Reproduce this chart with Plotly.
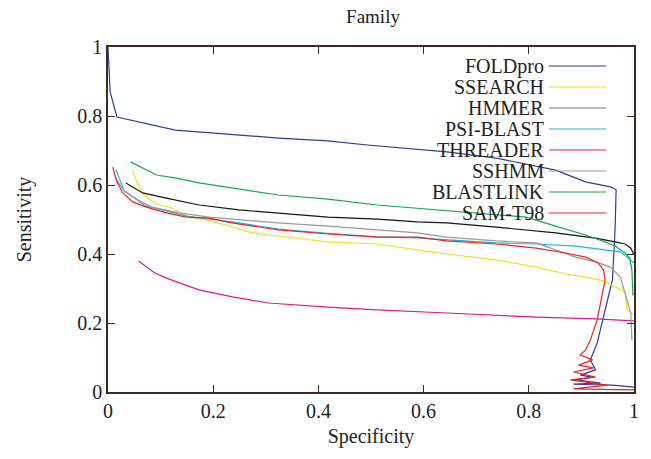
import plotly.graph_objects as go

# ---- data ----
SERIES = ["FOLDpro", "SSEARCH", "HMMER", "PSI-BLAST", "THREADER", "SSHMM", "BLASTLINK", "SAM-T98"]

FOLDPRO_X = [0.0, 0.004, 0.017, 0.128, 0.324, 0.418, 0.493, 0.644, 0.738, 0.851, 0.908, 0.957, 0.966,
             0.964, 0.959, 0.940, 0.930, 0.917, 0.927, 0.898, 0.921, 0.889, 0.936, 0.885, 0.959, 1.0]
FOLDPRO_Y = [1.0, 0.87, 0.797, 0.759, 0.736, 0.728, 0.716, 0.696, 0.678, 0.643, 0.609, 0.594, 0.586,
             0.470, 0.325, 0.209, 0.142, 0.093, 0.064, 0.049, 0.043, 0.035, 0.026, 0.023, 0.020, 0.014]

SSEARCH_X = [0.047, 0.055, 0.064, 0.079, 0.098, 0.117, 0.136, 0.154, 0.186, 0.224, 0.267, 0.305, 0.418,
             0.512, 0.588, 0.644, 0.738, 0.814, 0.870, 0.908, 0.942, 0.964, 0.983, 0.987, 1.0]
SSEARCH_Y = [0.641, 0.609, 0.580, 0.557, 0.542, 0.536, 0.522, 0.507, 0.499, 0.484, 0.464, 0.455, 0.435,
             0.429, 0.412, 0.400, 0.383, 0.362, 0.342, 0.333, 0.322, 0.304, 0.290, 0.238, 0.223]

HMMER_X = [0.034, 0.066, 0.111, 0.173, 0.249, 0.324, 0.418, 0.512, 0.588, 0.644, 0.738, 0.851, 0.927,
           0.964, 0.983, 0.994, 1.0]
HMMER_Y = [0.606, 0.577, 0.562, 0.542, 0.528, 0.519, 0.507, 0.501, 0.493, 0.490, 0.478, 0.461, 0.446,
           0.435, 0.429, 0.417, 0.397]

PSIBLAST_X = [0.015, 0.03, 0.07, 0.15, 0.25, 0.324, 0.418, 0.512, 0.588, 0.644, 0.738, 0.814, 0.889,
              0.945, 0.974, 0.987, 0.992, 1.0]
PSIBLAST_Y = [0.645, 0.585, 0.54, 0.51, 0.49, 0.472, 0.46, 0.45, 0.447, 0.441, 0.432, 0.429, 0.423,
              0.412, 0.406, 0.391, 0.383, 0.375]

THREADER_X = [0.058, 0.073, 0.089, 0.111, 0.173, 0.239, 0.305, 0.418, 0.512, 0.644, 0.814, 0.927, 1.0]
THREADER_Y = [0.380, 0.362, 0.345, 0.330, 0.296, 0.275, 0.258, 0.246, 0.238, 0.229, 0.217, 0.212, 0.206]

SSHMM_X = [0.012, 0.019, 0.032, 0.060, 0.083, 0.136, 0.192, 0.249, 0.324, 0.418, 0.512, 0.588, 0.644,
           0.738, 0.814, 0.851, 0.889, 0.927, 0.955, 0.974, 0.983, 0.989, 0.994, 0.996]
SSHMM_Y = [0.630, 0.609, 0.580, 0.554, 0.536, 0.519, 0.507, 0.499, 0.490, 0.481, 0.470, 0.461, 0.449,
           0.438, 0.432, 0.412, 0.391, 0.377, 0.362, 0.333, 0.287, 0.252, 0.229, 0.151]

BLASTLINK_X = [0.043, 0.079, 0.092, 0.130, 0.173, 0.324, 0.418, 0.512, 0.588, 0.644, 0.795, 0.851, 0.908,
               0.945, 0.964, 0.983, 0.992, 0.996, 0.998]
BLASTLINK_Y = [0.667, 0.638, 0.629, 0.620, 0.606, 0.571, 0.559, 0.542, 0.533, 0.525, 0.507, 0.481, 0.455,
               0.435, 0.423, 0.403, 0.388, 0.354, 0.28]

SAMT98_X = [0.009, 0.017, 0.028, 0.047, 0.073, 0.111, 0.149, 0.192, 0.235, 0.324, 0.418, 0.512, 0.588,
            0.644, 0.738, 0.814, 0.870, 0.908, 0.932, 0.942, 0.945, 0.936, 0.930, 0.917, 0.908, 0.898,
            0.921, 0.895, 0.923, 0.885, 0.927, 0.879, 0.949, 0.885, 1.0]
SAMT98_Y = [0.652, 0.609, 0.577, 0.551, 0.536, 0.519, 0.507, 0.504, 0.490, 0.470, 0.458, 0.449, 0.449,
            0.438, 0.429, 0.417, 0.403, 0.391, 0.374, 0.354, 0.325, 0.258, 0.209, 0.151, 0.122, 0.107,
            0.093, 0.078, 0.070, 0.058, 0.043, 0.035, 0.020, 0.009, 0.006]

X_TICKS = [0, 0.2, 0.4, 0.6, 0.8, 1]
Y_TICKS = [0, 0.2, 0.4, 0.6, 0.8, 1]

# ---- styles ----
COLORS = {
    "FOLDpro": "#2f3a9c",
    "SSEARCH": "#f0e020",
    "HMMER": "#151515",
    "PSI-BLAST": "#20b4e6",
    "THREADER": "#e4198a",
    "SSHMM": "#9a9a9a",
    "BLASTLINK": "#18a84c",
    "SAM-T98": "#ec2424",
}
LEGEND_LINE_COLORS = dict(COLORS, HMMER="#7a7a7a")

DATA = {
    "FOLDpro": (FOLDPRO_X, FOLDPRO_Y),
    "SSEARCH": (SSEARCH_X, SSEARCH_Y),
    "HMMER": (HMMER_X, HMMER_Y),
    "PSI-BLAST": (PSIBLAST_X, PSIBLAST_Y),
    "THREADER": (THREADER_X, THREADER_Y),
    "SSHMM": (SSHMM_X, SSHMM_Y),
    "BLASTLINK": (BLASTLINK_X, BLASTLINK_Y),
    "SAM-T98": (SAMT98_X, SAMT98_Y),
}

FONT = "Liberation Serif, Times New Roman, serif"
TXT = "#222222"
AXC = "#3b2d26"

fig = go.Figure()
for name in SERIES:
    xs, ys = DATA[name]
    fig.add_trace(go.Scatter(x=xs, y=ys, mode="lines", name=name,
                             line=dict(color=COLORS[name], width=1.2),
                             showlegend=False, hoverinfo="skip"))

# gnuplot-style legend: right-aligned text, line sample on the right
L, R, T, B = 108, 12, 47, 67
W, H = 651 - L - R, 459 - T - B
row0, step = 66, 21
text_right_px, line_x0_px, line_x1_px = 550, 553, 611
for i, name in enumerate(SERIES):
    ypx = row0 + i * step
    yp = (459 - B - ypx) / H
    fig.add_annotation(xref="paper", yref="paper", x=(text_right_px - L) / W, y=yp,
                       text=name, showarrow=False, xanchor="right", yanchor="middle",
                       font=dict(family=FONT, size=20, color=TXT))
    fig.add_shape(type="line", xref="paper", yref="paper",
                  x0=(line_x0_px - L) / W, x1=(line_x1_px - L) / W, y0=yp, y1=yp,
                  line=dict(color=LEGEND_LINE_COLORS[name], width=1.2))

# y-axis title placed like the reference
fig.add_annotation(xref="paper", yref="paper", x=(24 - L) / W, y=0.5, text="Sensitivity",
                   textangle=-90, showarrow=False, xanchor="center", yanchor="middle",
                   font=dict(family=FONT, size=20, color=TXT))

axis_common = dict(showgrid=False, zeroline=False, showline=True, linecolor=AXC, linewidth=1.5,
                   mirror="allticks", ticks="inside", ticklen=7, tickcolor=AXC, tickwidth=1,
                   tickfont=dict(family=FONT, size=20, color=TXT))

fig.update_layout(
    width=651, height=459,
    margin=dict(l=L, r=R, t=T, b=B),
    paper_bgcolor="white", plot_bgcolor="white",
    title=dict(text="Family", x=373 / 651, xanchor="center", y=1 - 16 / 459, yanchor="middle",
               font=dict(family=FONT, size=19, color=TXT)),
    xaxis=dict(range=[0, 1], tickvals=X_TICKS, ticktext=[f"{v:g}" for v in X_TICKS],
               title=dict(text="Specificity", font=dict(family=FONT, size=20, color=TXT), standoff=8),
               **axis_common),
    yaxis=dict(range=[0, 1], tickvals=Y_TICKS, ticktext=[f"{v:g}" for v in Y_TICKS],
               **axis_common),
)

fig.write_html("out.html")
